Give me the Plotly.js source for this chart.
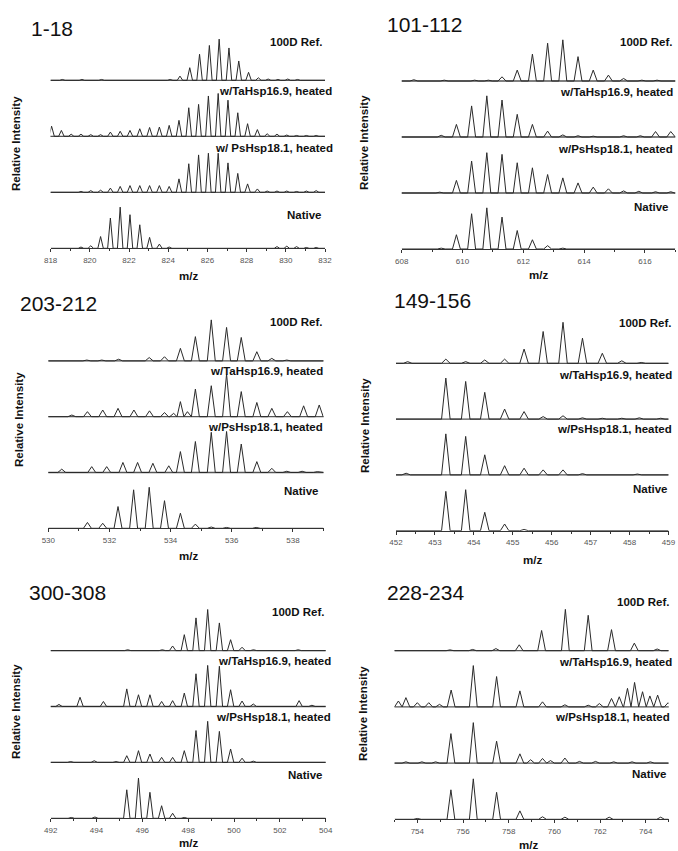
<!DOCTYPE html>
<html><head><meta charset="utf-8">
<script src="https://cdn.plot.ly/plotly-3.0.1.min.js"></script>
<style>html,body{margin:0;padding:0;background:#fff}#chart{width:678px;height:851px}</style>
</head><body><div id="chart"></div>
<script>
// ---------- DATA (peak m/z and relative intensity) ----------
const panelTitles = ['1-18', '101-112', '203-212', '149-156', '300-308', '228-234'];
const seriesLabelsA = ['100D Ref.', 'w/TaHsp16.9, heated', 'w/ PsHsp18.1, heated', 'Native'];
const seriesLabelsB = ['100D Ref.', 'w/TaHsp16.9, heated', 'w/PsHsp18.1, heated', 'Native'];
const xRanges = [[818, 832], [608, 617], [530, 539], [452, 459], [492, 504], [753, 765]];
const xDticks = [2, 2, 2, 1, 2, 2];

// Panel 1: 1-18
const ref1_mz = [818.6, 819.6, 820.6, 824.1, 824.6, 825.1, 825.6, 826.1, 826.6, 827.1, 827.6, 828.1, 828.6, 829.1, 829.6, 830.1, 830.6];
const ref1_int = [2, 2, 2, 2, 10, 30, 62, 83, 98, 77, 46, 19, 6, 3, 2, 3, 2];
const ta1_mz = [818.05, 818.55, 819.05, 819.55, 820.05, 820.55, 821.05, 821.55, 822.05, 822.55, 823.05, 823.55, 824.05, 824.55, 825.05, 825.55, 826.05, 826.55, 827.05, 827.55, 828.05, 828.55, 829.05, 829.55, 830.05, 830.55, 831.05, 831.55];
const ta1_int = [24, 14, 5, 5, 4, 4, 10, 12, 14, 18, 21, 22, 26, 38, 68, 76, 96, 102, 86, 56, 30, 16, 6, 5, 3, 2, 2, 2];
const ps1_mz = [819.55, 820.05, 820.55, 821.05, 821.55, 822.05, 822.55, 823.05, 823.55, 824.05, 824.55, 825.05, 825.55, 826.05, 826.55, 827.05, 827.55, 828.05, 828.55, 829.05, 829.55, 830.05, 830.55, 831.05, 831.55];
const ps1_int = [2, 4, 5, 10, 14, 16, 16, 16, 16, 14, 32, 68, 89, 93, 93, 70, 45, 20, 8, 3, 3, 3, 2, 3, 4];
const nat1_mz = [819.55, 820.05, 820.55, 821.05, 821.55, 822.05, 822.55, 823.05, 823.55, 824.05, 829.55, 830.05, 830.55, 831.05, 831.55];
const nat1_int = [3, 6, 28, 72, 98, 80, 56, 26, 10, 3, 4, 5, 4, 2, 2];

// Panel 2: 101-112
const ref2_mz = [608.4, 609.4, 610.4, 610.85, 611.3, 611.8, 612.3, 612.8, 613.3, 613.8, 614.3, 614.8, 615.3, 615.9, 616.4];
const ref2_int = [3, 2, 2, 2, 10, 26, 64, 90, 98, 58, 26, 14, 6, 2, 2];
const ta2_mz = [609.3, 609.8, 610.3, 610.8, 611.3, 611.8, 612.3, 612.8, 613.3, 613.8, 614.3, 615.3, 615.85, 616.35, 616.85];
const ta2_int = [4, 30, 74, 98, 88, 54, 30, 14, 5, 3, 2, 3, 3, 13, 13];
const ps2_mz = [609.25, 609.8, 610.3, 610.8, 611.3, 611.8, 612.3, 612.8, 613.3, 613.8, 614.3, 614.8, 615.3, 615.8, 616.35, 616.85];
const ps2_int = [2, 30, 76, 96, 92, 72, 60, 44, 36, 24, 14, 10, 5, 4, 3, 3];
const nat2_mz = [609.3, 609.8, 610.3, 610.8, 611.3, 611.8, 612.3, 612.8, 613.3];
const nat2_int = [2, 34, 84, 98, 76, 44, 22, 8, 2];

// Panel 3: 203-212
const ref3_mz = [531.26, 531.75, 532.3, 533.3, 533.8, 534.32, 534.81, 535.33, 535.83, 536.31, 536.82, 537.31, 537.8];
const ref3_int = [2, 2, 4, 8, 10, 30, 58, 98, 80, 56, 22, 6, 2];
const ta3_mz = [530.77, 531.28, 531.78, 532.28, 532.8, 533.31, 533.8, 534.1, 534.32, 534.55, 534.81, 535.33, 535.83, 536.31, 536.82, 537.31, 537.82, 538.35, 538.86];
const ta3_int = [4, 12, 16, 20, 16, 14, 10, 8, 36, 12, 66, 74, 102, 60, 34, 20, 12, 26, 28];
const ps3_mz = [530.44, 531.42, 531.91, 532.44, 532.92, 533.42, 533.94, 534.32, 534.81, 535.33, 535.83, 536.31, 536.82, 537.31, 537.8, 538.3, 538.8];
const ps3_int = [8, 14, 14, 24, 24, 22, 16, 50, 74, 96, 98, 68, 26, 10, 3, 3, 2];
const nat3_mz = [531.28, 531.78, 532.28, 532.79, 533.3, 533.8, 534.32, 534.81, 535.33, 535.83, 536.8];
const nat3_int = [14, 12, 52, 92, 98, 66, 36, 10, 3, 2, 2];

// Panel 4: 149-156
const ref4_mz = [452.3, 453.28, 453.79, 454.28, 454.79, 455.29, 455.78, 456.29, 456.79, 457.3, 457.8, 458.3];
const ref4_int = [4, 10, 4, 8, 10, 34, 76, 98, 60, 24, 6, 2];
const ta4_mz = [453.28, 453.79, 454.28, 454.79, 455.29, 455.78, 456.29, 456.79, 457.3, 457.8, 458.25, 458.8];
const ta4_int = [98, 90, 64, 24, 18, 6, 8, 3, 2, 2, 3, 2];
const ps4_mz = [452.26, 453.28, 453.79, 454.28, 454.79, 455.29, 455.78, 456.29, 456.79, 458.2];
const ps4_int = [4, 98, 92, 48, 22, 16, 12, 12, 3, 2];
const nat4_mz = [453.28, 453.79, 454.28, 454.79, 455.29];
const nat4_int = [94, 98, 44, 16, 3];

// Panel 5: 300-308
const ref5_mz = [495.36, 496.87, 497.32, 497.83, 498.34, 498.85, 499.36, 499.85, 500.35, 500.85, 502.8];
const ref5_int = [2, 2, 11, 38, 78, 98, 66, 26, 8, 2, 2];
const ta5_mz = [492.36, 493.28, 494.3, 495.32, 495.83, 496.33, 496.84, 497.32, 497.83, 498.34, 498.85, 499.36, 499.85, 500.35, 500.84, 502.84, 503.4];
const ta5_int = [5, 22, 12, 42, 28, 28, 12, 14, 32, 78, 98, 96, 40, 13, 6, 14, 3];
const ps5_mz = [492.87, 493.9, 494.85, 495.32, 495.83, 496.33, 496.84, 497.32, 497.83, 498.34, 498.85, 499.36, 499.85, 500.35, 500.84];
const ps5_int = [2, 4, 2, 16, 28, 20, 12, 12, 28, 76, 98, 74, 32, 10, 3];
const nat5_mz = [492.9, 493.93, 495.32, 495.83, 496.33, 496.84, 497.32, 497.83];
const nat5_int = [2, 3, 68, 96, 62, 30, 12, 2];

// Panel 6: 228-234
const ref6_mz = [755.43, 756.42, 757.44, 758.46, 759.44, 760.48, 761.48, 762.5, 763.5, 764.5];
const ref6_int = [2, 3, 5, 14, 48, 98, 84, 50, 18, 4];
const ta6_mz = [753.17, 753.5, 754.0, 754.5, 754.97, 755.48, 756.45, 757.47, 758.49, 759.48, 760.46, 761.48, 761.97, 762.5, 762.84, 763.2, 763.51, 763.86, 764.18, 764.52, 764.98];
const ta6_int = [14, 22, 10, 10, 6, 40, 98, 72, 38, 12, 5, 4, 8, 20, 24, 44, 58, 36, 26, 28, 10];
const ps6_mz = [753.5, 754.2, 754.8, 755.47, 756.45, 757.47, 758.49, 758.96, 759.48, 759.83, 760.46, 761.1, 761.8, 762.6, 763.4, 764.2];
const ps6_int = [3, 3, 3, 70, 96, 52, 22, 8, 11, 6, 12, 4, 4, 3, 3, 3];
const nat6_mz = [754.0, 755.47, 756.45, 757.47, 758.49, 759.48, 760.46, 762.4, 764.65];
const nat6_int = [2, 70, 96, 64, 20, 6, 5, 5, 5];

const spectra = [
  [[ref1_mz, ref1_int], [ta1_mz, ta1_int], [ps1_mz, ps1_int], [nat1_mz, nat1_int]],
  [[ref2_mz, ref2_int], [ta2_mz, ta2_int], [ps2_mz, ps2_int], [nat2_mz, nat2_int]],
  [[ref3_mz, ref3_int], [ta3_mz, ta3_int], [ps3_mz, ps3_int], [nat3_mz, nat3_int]],
  [[ref4_mz, ref4_int], [ta4_mz, ta4_int], [ps4_mz, ps4_int], [nat4_mz, nat4_int]],
  [[ref5_mz, ref5_int], [ta5_mz, ta5_int], [ps5_mz, ps5_int], [nat5_mz, nat5_int]],
  [[ref6_mz, ref6_int], [ta6_mz, ta6_int], [ps6_mz, ps6_int], [nat6_mz, nat6_int]]
];

// ---------- LAYOUT / STYLE ----------
const W = 678, H = 851;
const geo = [ // x-domain px, native baseline px, row spacing px, peak half width (m/z units)
  {xd: [50.6, 325], base: 248.3, sp: 56.0, hw: 0.14},
  {xd: [401.7, 675.3], base: 249, sp: 56.0, hw: 0.13},
  {xd: [48.3, 323.5], base: 528.3, sp: 55.8, hw: 0.13},
  {xd: [396, 668.5], base: 530.7, sp: 55.8, hw: 0.11},
  {xd: [50.7, 325.7], base: 818.3, sp: 55.9, hw: 0.14},
  {xd: [394.5, 668.6], base: 819.3, sp: 56.2, hw: 0.17}
];
const titlePos = [[29, 28], [385, 25], [18, 303], [392, 300], [27, 592], [385, 592]];
const labelPos = [
  [[324, 42], [334, 91], [335, 148], [324, 215]],
  [[674, 42], [675, 92], [675, 149], [671, 207]],
  [[324, 322], [325, 371], [325, 427], [321, 491]],
  [[673, 323], [674, 375], [674, 429], [670, 489]],
  [[326, 612], [333, 661], [333, 717], [325, 775]],
  [[671, 602], [674, 662], [672, 717], [669, 774]]
];
const yLabPos = [[16, 144], [364, 143], [19, 420], [365, 426], [16, 712], [363, 714]];
const mzPos = [[188, 276], [538, 275], [188, 556], [532, 560], [188, 843], [528, 845]];
const TOP = 3.85, K = 0.0075;
const FONT = 'Liberation Sans, Arial, sans-serif';

const px = v => v / W, py = v => 1 - v / H;

function spikeTrace(mz, it, hw, off, xr, ax) {
  const idx = mz.map((_, i) => i).sort((a, b) => mz[a] - mz[b]);
  const xs = [xr[0]], ys = [off];
  let prevEnd = -Infinity;
  idx.forEach((i, n) => {
    const c = mz[i];
    let left = c - hw;
    if (left < prevEnd) { // overlap: meet at the midpoint
      xs.pop(); ys.pop();
      const mid = (prevEnd - hw + c) / 2;
      xs.push(mid); ys.push(off);
    } else {
      xs.push(left); ys.push(off);
    }
    xs.push(c); ys.push(off + it[i] * K);
    xs.push(c + hw); ys.push(off);
    prevEnd = c + hw;
  });
  xs.push(xr[1]); ys.push(off);
  return {x: xs, y: ys, type: 'scatter', mode: 'lines', xaxis: 'x' + ax, yaxis: 'y' + ax,
    line: {color: '#2a2a2a', width: 1}, hoverinfo: 'skip', showlegend: false, cliponaxis: true};
}

const data = [], shapes = [], annotations = [];
const layout = {width: W, height: H, margin: {l: 0, r: 0, t: 0, b: 0}, paper_bgcolor: '#fff',
  plot_bgcolor: 'rgba(0,0,0,0)', showlegend: false, font: {family: FONT}};

geo.forEach((g, p) => {
  const n = p + 1, ax = n === 1 ? '' : String(n);
  const xr = xRanges[p];
  const top = g.base - TOP * g.sp;
  layout['xaxis' + ax] = {domain: [px(g.xd[0]), px(g.xd[1])], range: xr, anchor: 'y' + ax,
    showline: true, linecolor: '#333', linewidth: 1, ticks: 'outside', ticklen: 3, tickwidth: 1,
    tickcolor: '#333', dtick: xDticks[p], tick0: 0, showgrid: false, zeroline: false,
    tickfont: {size: 8, color: '#555', family: FONT}, ticklabelstandoff: 1,
    minor: {dtick: xDticks[p] / 2, ticks: 'outside', ticklen: 2, tickcolor: '#333', showgrid: false},
    fixedrange: true};
  layout['yaxis' + ax] = {domain: [py(g.base), py(top)], range: [0, TOP], anchor: 'x' + ax,
    visible: false, fixedrange: true};
  spectra[p].forEach((s, k) => {
    const off = 3 - k;
    data.push(spikeTrace(s[0], s[1], g.hw, off, xr, n === 1 ? '' : String(n)));
    if (off > 0) {
      shapes.push({type: 'line', xref: 'x' + ax + ' domain', yref: 'y' + ax, x0: 0, x1: 1, y0: off, y1: off,
        line: {color: '#555', width: 1.3}, layer: 'below'});
    }
    const lbl = (p === 0 ? seriesLabelsA : seriesLabelsB)[k];
    annotations.push({text: lbl, xref: 'paper', yref: 'paper', x: px(labelPos[p][k][0]), y: py(labelPos[p][k][1]),
      xanchor: 'right', yanchor: 'middle', showarrow: false,
      font: {size: 11.5, color: '#111', family: FONT, weight: 'bold'}});
  });
  annotations.push({text: panelTitles[p], xref: 'paper', yref: 'paper', x: px(titlePos[p][0]), y: py(titlePos[p][1]),
    xanchor: 'left', yanchor: 'middle', showarrow: false, font: {size: 21, color: '#111', family: FONT}});
  annotations.push({text: 'Relative Intensity', xref: 'paper', yref: 'paper', x: px(yLabPos[p][0]), y: py(yLabPos[p][1]),
    xanchor: 'center', yanchor: 'middle', textangle: -90, showarrow: false,
    font: {size: 11.5, color: '#111', family: FONT, weight: 'bold'}});
  annotations.push({text: 'm/z', xref: 'paper', yref: 'paper', x: px(mzPos[p][0]), y: py(mzPos[p][1]),
    xanchor: 'center', yanchor: 'middle', showarrow: false,
    font: {size: 11.5, color: '#111', family: FONT, weight: 'bold'}});
});
layout.shapes = shapes;
layout.annotations = annotations;

Plotly.newPlot('chart', data, layout, {staticPlot: true, displayModeBar: false});
</script>
</body></html>
